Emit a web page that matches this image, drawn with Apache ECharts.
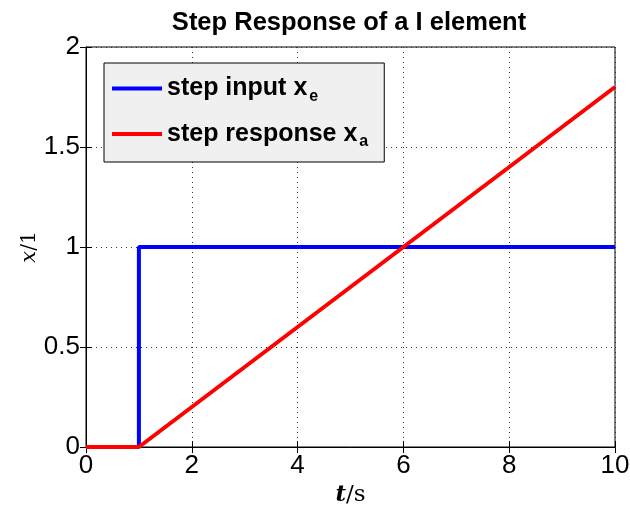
<!DOCTYPE html>
<html>
<head>
<meta charset="utf-8">
<script src="https://cdn.jsdelivr.net/npm/echarts@6/dist/echarts.min.js"></script>
<style>html,body{margin:0;padding:0;background:#fff}#c{width:630px;height:510px}</style>
</head>
<body>
<div id="c"></div>
<script>
// Step input x_e and ramp response x_a of an integrating (I) element
const timeInput = [0, 1, 1, 10];
const valueInput = [0, 0, 1, 1];
const timeResponse = [0, 1, 10];
const valueResponse = [0, 0, 1.8];
const xTicks = [0, 2, 4, 6, 8, 10];
const yTicks = [0, 0.5, 1, 1.5, 2];

const pairs = (xs, ys) => xs.map((x, i) => [x, ys[i]]);
const font = 'Arial, "Liberation Sans", sans-serif';
const serif = '"DejaVu Serif", "Liberation Serif", serif';

const frameAxis = {
  axisLine: { show: true, lineStyle: { color: '#000' } },
  axisTick: { show: true, inside: true, length: 6, lineStyle: { color: '#000' } },
  axisLabel: { show: false }, splitLine: { show: false }
};
const gridLines = { show: true, lineStyle: { color: '#333', type: [1, 4], width: 1 } };

const chart = echarts.init(document.getElementById('c'));
chart.setOption({
  animation: false,
  title: {
    text: 'Step Response of a I element',
    left: 344, top: 5, textAlign: 'center',
    textStyle: { fontFamily: font, fontWeight: 'bold', fontSize: 25.5, color: '#000' }
  },
  grid: {
    left: 86, right: 15, top: 47, bottom: 63,
    outerBoundsMode: 'none', containLabel: false,
    show: true, borderColor: '#000', borderWidth: 1, backgroundColor: '#fff'
  },
  legend: {
    orient: 'vertical', left: 104, top: 63,
    padding: [13, 16, 12, 8], itemGap: 17,
    backgroundColor: '#f0f0f0', borderColor: '#000', borderWidth: 1,
    icon: 'rect', itemWidth: 50, itemHeight: 4,
    data: ['in', 'out'],
    formatter: n => n === 'in' ? '{m|step input x}{s|e}' : '{m|step response x}{s|a}',
    textStyle: {
      rich: {
        m: { fontFamily: font, fontWeight: 'bold', fontSize: 25, color: '#000' },
        s: { fontFamily: font, fontWeight: 'bold', fontSize: 16, color: '#000', padding: [16, 0, 0, 2] }
      }
    }
  },
  xAxis: [{
    type: 'value', min: 0, max: 10, interval: 2,
    name: '{i|t}{n|/s}', nameLocation: 'middle', nameGap: 36,
    nameTextStyle: { rich: {
      i: { fontFamily: serif, fontStyle: 'italic', fontWeight: 'bold', fontSize: 23, color: '#000' },
      n: { fontFamily: serif, fontSize: 23, color: '#000' }
    } },
    axisLine: { lineStyle: { color: '#000' } },
    axisTick: { inside: true, length: 6, lineStyle: { color: '#000' } },
    axisLabel: { fontFamily: font, fontSize: 26, color: '#000', margin: 6 },
    splitLine: gridLines
  }, Object.assign({ type: 'value', min: 0, max: 10, interval: 2, position: 'top' }, frameAxis)],
  yAxis: [{
    type: 'value', min: 0, max: 2, interval: 0.5,
    name: '{i|x}{n|/1}', nameLocation: 'middle', nameGap: 46, nameRotate: 90,
    nameMoveOverlap: false,
    nameTextStyle: { rich: {
      i: { fontFamily: serif, fontStyle: 'italic', fontSize: 21, color: '#000' },
      n: { fontFamily: serif, fontSize: 20, color: '#000' }
    } },
    axisLine: { show: true, lineStyle: { color: '#000' } },
    axisTick: { show: true, inside: true, length: 6, lineStyle: { color: '#000' } },
    axisLabel: { fontFamily: font, fontSize: 26, color: '#000', margin: 6 },
    splitLine: gridLines
  }, Object.assign({ type: 'value', min: 0, max: 2, interval: 0.5, position: 'right' }, frameAxis)],
  series: [{
    name: 'in', type: 'line', data: pairs(timeInput, valueInput),
    showSymbol: false, symbol: 'none', color: '#0000ff',
    lineStyle: { width: 4, color: '#0000ff' }
  }, {
    name: 'out', type: 'line', data: pairs(timeResponse, valueResponse),
    showSymbol: false, symbol: 'none', color: '#ff0000',
    lineStyle: { width: 4, color: '#ff0000' }
  }]
});
</script>
</body>
</html>
